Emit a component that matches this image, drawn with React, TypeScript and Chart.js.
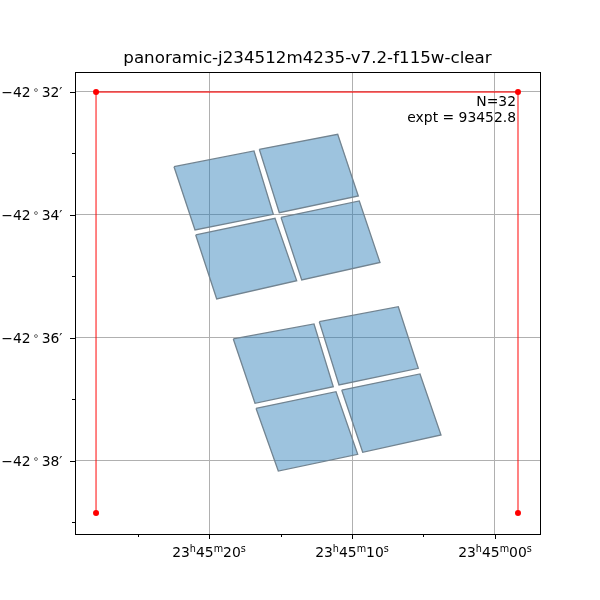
import React, { useEffect, useRef } from 'react';
import { Chart, registerables } from 'chart.js';

Chart.register(...registerables);

// Axis: RA seconds after 23h45m (reversed), Dec arcminutes relative to -42°
const TITLE = 'panoramic-j234512m4235-v7.2-f115w-clear';
const X_MAJOR = [20, 10, 0];
const X_MINOR = [25, 15, 5];
const X_LABEL_PARTS = [
  ['23', 'h', '45', 'm', '20', 's'],
  ['23', 'h', '45', 'm', '10', 's'],
  ['23', 'h', '45', 'm', '00', 's'],
];
const Y_MAJOR = [-32, -34, -36, -38];
const Y_MINOR = [-33, -35, -37, -39];
const Y_LABEL_DEG = ['−42', '−42', '−42', '−42'];
const Y_LABEL_MIN = ['32′', '34′', '36′', '38′'];
const X_RANGE = [-3.147, 29.371];
const Y_RANGE = [-39.187, -31.675];

const N_EXPOSURES = 32;
const EXPTIME = 93452.8;

// Outline footprint (red)
const OUTLINE_RA = [27.9, 27.9, -1.608, -1.608];
const OUTLINE_DEC = [-38.846, -32.0, -32.0, -38.846];

// Detector footprints
const DETECTOR_RA = [
  [22.448, 16.853, 15.503, 20.979],
  [16.483, 11.0, 9.559, 15.084],
  [20.93, 15.385, 13.867, 19.462],
  [14.965, 9.49, 8.042, 13.517],
  [18.301, 12.657, 11.308, 16.783],
  [12.287, 6.762, 5.364, 10.909],
  [16.713, 11.119, 9.601, 15.154],
  [10.72, 5.245, 3.776, 9.252],
];
const DETECTOR_DEC = [
  [-33.215, -32.959, -33.989, -34.244],
  [-32.932, -32.688, -33.691, -33.963],
  [-34.325, -34.054, -35.068, -35.366],
  [-34.037, -33.772, -34.772, -35.057],
  [-36.016, -35.772, -36.792, -37.062],
  [-35.735, -35.491, -36.493, -36.764],
  [-37.143, -36.873, -37.891, -38.163],
  [-36.846, -36.585, -37.577, -37.859],
];

const FONT = '"DejaVu Sans", sans-serif';

export default function App() {
  const ref = useRef<HTMLCanvasElement | null>(null);

  useEffect(() => {
    const canvas = ref.current;
    if (!canvas) return;

    const detectorSets = DETECTOR_RA.map((ras, i) => {
      const pts = ras.map((x, j) => ({ x, y: DETECTOR_DEC[i][j] }));
      pts.push({ ...pts[0] });
      return {
        data: pts,
        showLine: true,
        fill: 'shape' as const,
        backgroundColor: 'rgba(31,119,180,0.44)',
        borderColor: '#728491',
        borderWidth: 1.3,
        pointRadius: 0,
        pointHoverRadius: 0,
        tension: 0,
      };
    });

    const outline = {
      data: OUTLINE_RA.map((x, i) => ({ x, y: OUTLINE_DEC[i] })),
      showLine: true,
      fill: false,
      borderColor: 'rgba(255,0,0,0.75)',
      borderWidth: 1.3,
      pointRadius: 3,
      pointBackgroundColor: '#ff0000',
      pointBorderColor: '#ff0000',
      pointBorderWidth: 0,
      tension: 0,
    };

    const decor = {
      id: 'decor',
      afterDraw(chart: any) {
        const ctx = chart.ctx as CanvasRenderingContext2D;
        const a = chart.chartArea;
        const xs = chart.scales.x;
        const ys = chart.scales.y;
        ctx.save();
        // frame
        ctx.strokeStyle = '#000';
        ctx.lineWidth = 1;
        ctx.strokeRect(Math.round(a.left) + 0.5, Math.round(a.top) + 0.5, Math.round(a.right - a.left), Math.round(a.bottom - a.top));
        // ticks
        ctx.beginPath();
        X_MAJOR.forEach((v) => {
          const px = Math.round(xs.getPixelForValue(v)) + 0.5;
          ctx.moveTo(px, a.bottom);
          ctx.lineTo(px, a.bottom + 5);
        });
        X_MINOR.forEach((v) => {
          const px = Math.round(xs.getPixelForValue(v)) + 0.5;
          ctx.moveTo(px, a.bottom);
          ctx.lineTo(px, a.bottom + 3);
        });
        Y_MAJOR.forEach((v) => {
          const py = Math.round(ys.getPixelForValue(v)) + 0.5;
          ctx.moveTo(a.left, py);
          ctx.lineTo(a.left - 5, py);
        });
        Y_MINOR.forEach((v) => {
          const py = Math.round(ys.getPixelForValue(v)) + 0.5;
          ctx.moveTo(a.left, py);
          ctx.lineTo(a.left - 3, py);
        });
        ctx.stroke();

        ctx.fillStyle = '#000';
        ctx.textBaseline = 'alphabetic';
        ctx.textAlign = 'left';
        const big = `13.9px ${FONT}`;
        const small = `9.7px ${FONT}`;
        // x labels
        X_MAJOR.forEach((v, i) => {
          const parts = X_LABEL_PARTS[i];
          let w = 0;
          parts.forEach((p, k) => {
            ctx.font = k % 2 === 0 ? big : small;
            w += ctx.measureText(p).width;
          });
          let x = xs.getPixelForValue(v) - w / 2;
          const base = a.bottom + 23;
          parts.forEach((p, k) => {
            const sup = k % 2 === 1;
            ctx.font = sup ? small : big;
            ctx.fillText(p, x, sup ? base - 5 : base);
            x += ctx.measureText(p).width;
          });
        });
        // y labels
        Y_MAJOR.forEach((v, i) => {
          const py = ys.getPixelForValue(v);
          const base = py + 5;
          ctx.font = big;
          const w1 = ctx.measureText(Y_LABEL_DEG[i]).width;
          const w3 = ctx.measureText(Y_LABEL_MIN[i]).width;
          ctx.font = small;
          const w2 = ctx.measureText('∘').width;
          const gap = 2.5;
          const total = w1 + gap + w2 + gap + w3;
          let x = a.left - 12.5 - total;
          ctx.font = big;
          ctx.fillText(Y_LABEL_DEG[i], x, base);
          x += w1 + gap;
          ctx.font = small;
          ctx.fillText('∘', x, base - 3.5);
          x += w2 + gap;
          ctx.font = big;
          ctx.fillText(Y_LABEL_MIN[i], x, base);
        });
        // title
        ctx.font = `16.7px ${FONT}`;
        ctx.textAlign = 'center';
        ctx.fillText(TITLE, (a.left + a.right) / 2, 63);
        // annotation
        ctx.font = big;
        ctx.textAlign = 'right';
        ctx.fillText(`N=${N_EXPOSURES}`, 516, 106);
        ctx.fillText(`expt = ${EXPTIME.toFixed(1)}`, 516, 122);
        ctx.restore();
      },
    };

    const chart = new Chart(canvas, {
      type: 'scatter',
      data: { datasets: [outline as any, ...(detectorSets as any)] },
      options: {
        responsive: false,
        animation: false,
        devicePixelRatio: 1,
        layout: { padding: { top: 72, right: 60, left: 0, bottom: 0 } },
        plugins: {
          legend: { display: false },
          title: { display: false },
          tooltip: { enabled: false },
        },
        scales: {
          x: {
            type: 'linear',
            reverse: true,
            min: X_RANGE[0],
            max: X_RANGE[1],
            afterBuildTicks: (s: any) => {
              s.ticks = X_MAJOR.map((value) => ({ value }));
            },
            afterFit: (s: any) => {
              s.height = 66;
            },
            ticks: { display: false },
            grid: { color: '#b0b0b0', lineWidth: 1, drawTicks: false },
            border: { display: false },
          },
          y: {
            type: 'linear',
            min: Y_RANGE[0],
            max: Y_RANGE[1],
            afterBuildTicks: (s: any) => {
              s.ticks = Y_MAJOR.map((value) => ({ value }));
            },
            afterFit: (s: any) => {
              s.width = 75;
            },
            ticks: { display: false },
            grid: { color: '#b0b0b0', lineWidth: 1, drawTicks: false },
            border: { display: false },
          },
        },
      },
      plugins: [decor],
    });

    return () => chart.destroy();
  }, []);

  return (
    <div style={{ position: 'absolute', left: 0, top: 0, width: 600, height: 600, background: '#fff' }}>
      <canvas ref={ref} width={600} height={600} style={{ width: 600, height: 600 }} />
    </div>
  );
}
